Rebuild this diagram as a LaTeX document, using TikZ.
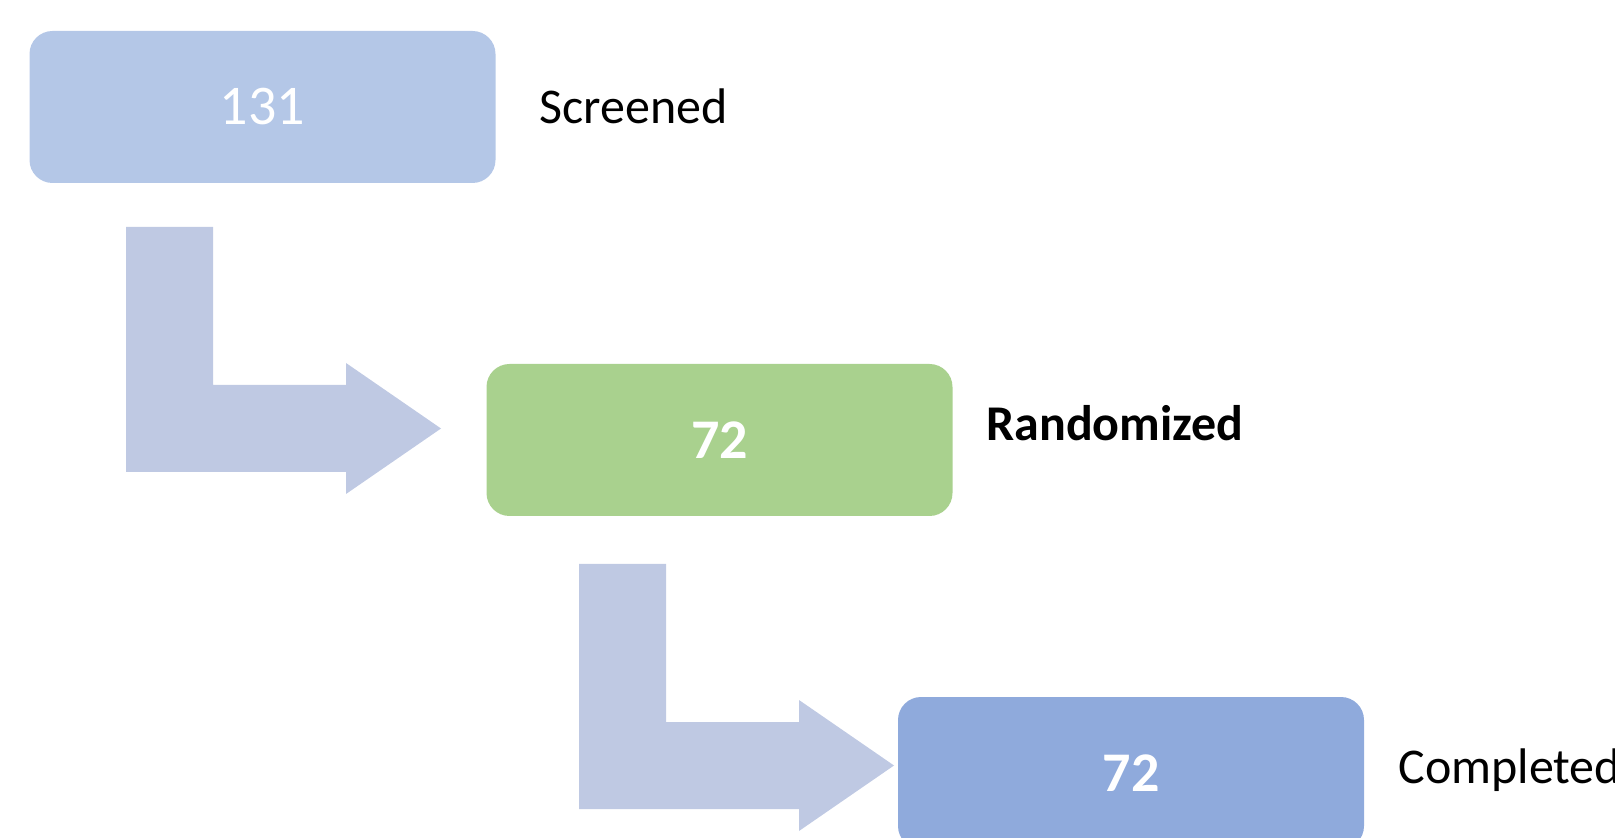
\documentclass[tikz,border=0pt]{standalone}
\usepackage{fontspec}
\setmainfont{Carlito}
\usetikzlibrary{positioning}
\definecolor{scrblue}{HTML}{B4C7E7}
\definecolor{rndgreen}{HTML}{A9D18E}
\definecolor{cmpblue}{HTML}{8FAADC}
\definecolor{flowlav}{HTML}{BFC9E3}
\tikzset{
  stagebox/.style={rounded corners=11.5pt, minimum width=233pt,
    minimum height=76pt, inner sep=0pt, text=white,
    font=\fontsize{28}{33}\selectfont},
  stagelbl/.style={anchor=base west, inner sep=0pt,
    font=\fontsize{25}{30}\selectfont},
  bendarr/.style={fill=flowlav, draw=none},
}
\begin{document}
\begin{tikzpicture}[x=0.5pt, y=-0.5pt]
  \clip (0,0) rectangle (1615,838);
  % Bent block arrows between the stages
  \foreach \dx/\dy in {0/0, 453/337}
    \fill[bendarr, shift={(\dx,\dy)}] (126,227) -- (213,227) -- (213,385)
      -- (346,385) -- (346,363) -- (441,428.5) -- (346,494) -- (346,472)
      -- (126,472) -- cycle;
  % Stage boxes
  \node[stagebox, fill=scrblue] at (262.5,107) (scr) {131};
  \node[stagebox, fill=rndgreen, font=\fontsize{28}{33}\selectfont\bfseries] at (719.5,440) (rnd) {72};
  \node[stagebox, fill=cmpblue, font=\fontsize{28}{33}\selectfont\bfseries] at (1131,773) (cmp) {72};
  % Stage labels
  \node[stagelbl] at (539,124) (scrlbl) {Screened};
  \node[stagelbl, font=\fontsize{25}{30}\selectfont\bfseries] at (986,441) (rndlbl) {Randomized};
  \node[stagelbl] at (1398,783) (cmplbl) {Completed};
\end{tikzpicture}
\end{document}
